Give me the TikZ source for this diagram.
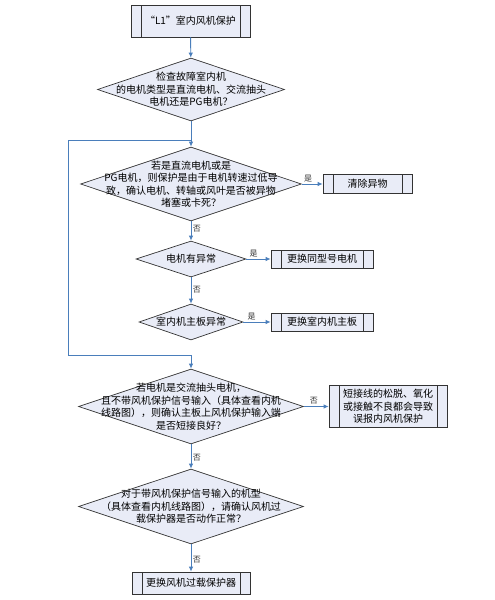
\documentclass[tikz,border=0pt]{standalone}
\usepackage{fontspec}
\newfontfamily\cjk{Noto Sans CJK SC}
\usepackage{tikz}
\usetikzlibrary{positioning}
\usetikzlibrary{arrows.meta,shapes}
\definecolor{boxfill}{HTML}{E9ECF7}
\definecolor{flowblue}{HTML}{4A7EBB}
\tikzstyle{txt}=[font=\cjk\fontsize{10}{12.5}\selectfont, align=center, inner sep=0pt]
\tikzstyle{decision}=[diamond, draw=black!80, fill=boxfill, inner sep=0pt, line width=0.7pt]
\tikzstyle{process}=[rectangle, draw=black!80, fill=boxfill, line width=0.7pt,
  path picture={\draw[black!80, line width=0.7pt]
    ([xshift=10pt]path picture bounding box.north west) -- ([xshift=10pt]path picture bounding box.south west)
    ([xshift=-10pt]path picture bounding box.north east) -- ([xshift=-10pt]path picture bounding box.south east);}]
\tikzstyle{flow}=[draw, flowblue, line width=0.9pt, -{Latex[length=5pt,width=4.5pt]}]
\tikzstyle{link}=[draw, flowblue, line width=0.9pt]
\tikzstyle{lbl}=[font=\cjk\fontsize{8}{8}\selectfont, text=black!80, inner sep=1.5pt]

\begin{document}
\begin{tikzpicture}[x=1pt, y=-1pt]
    \useasboundingbox (0,0) rectangle (495,600);
    % First we draw the boxes and the decisions
    \node[process, txt, minimum width=119pt, minimum height=32pt] (start) at (190.5,21) {“L1”室内风机保护};

    \node[decision, minimum width=187pt, minimum height=63pt] (d1) at (191,89.5) {};
    \node[txt] (t1) at (d1) {检查故障室内机\\的电机类型是直流电机、交流抽头\\电机还是PG电机？};

    \node[decision, minimum width=221pt, minimum height=74pt] (d2) at (191,184) {};
    \node[txt] (t2) at (d2) {若是直流电机或是\\PG电机，则保护是由于电机转速过低导\\致，确认电机、转轴或风叶是否被异物\\堵塞或卡死？};
    \node[process, txt, minimum width=89pt, minimum height=19pt] (clear) at (367.5,184) {清除异物};

    \node[decision, minimum width=110pt, minimum height=36pt] (d3) at (191,259) {};
    \node[txt] (t3) at (d3) {电机有异常};
    \node[process, txt, minimum width=102pt, minimum height=18pt] (motor) at (322,259) {更换同型号电机};

    \node[decision, minimum width=104pt, minimum height=36pt] (d4) at (191,322) {};
    \node[txt] (t4) at (d4) {室内机主板异常};
    \node[process, txt, minimum width=102pt, minimum height=18pt] (board) at (322,322) {更换室内机主板};

    \node[decision, minimum width=225pt, minimum height=75pt] (d5) at (191,406.5) {};
    \node[txt] (t5) at (d5) {若电机是交流抽头电机，\\且不带风机保护信号输入（具体查看内机\\线路图），则确认主板上风机保护输入端\\是否短接良好？};
    \node[process, txt, minimum width=118pt, minimum height=42pt] (short) at (388,406.5) {短接线的松脱、氧化\\或接触不良都会导致\\误报内风机保护};

    \node[decision, minimum width=225pt, minimum height=75pt] (d6) at (191,506.5) {};
    \node[txt] (t6) at (d6) {对于带风机保护信号输入的机型\\（具体查看内机线路图），请确认风机过\\载保护器是否动作正常？};
    \node[process, txt, minimum width=118pt, minimum height=22pt] (final) at (191,583) {更换风机过载保护器};

    % Then the connectors
    \coordinate (j1) at (191,140);
    \coordinate (j2) at (191,355);
    \coordinate (loopa) at (68,140);
    \coordinate (loopb) at (68,355);
    \path[flow] (start) -- (d1);
    \path[flow] (d1) -- (d2);
    \path[link] (j1) -- (loopa) -- (loopb) -- (j2);
    \path[flow] (j2) -- (d5);
    \foreach \source/\dest in {d2/clear, d3/motor, d4/board}
        \path[flow] (\source) -- node[lbl, above, pos=0.3] {是} (\dest);
    \path[flow] (d5) -- node[lbl, above, pos=0.4] {否} (short);
    \foreach \source/\dest/\where in {d2/d3/0.4, d3/d4/0.45, d5/d6/0.55, d6/final/0.55}
        \path[flow] (\source) -- node[lbl, right, pos=\where] {否} (\dest);
\end{tikzpicture}
\end{document}
